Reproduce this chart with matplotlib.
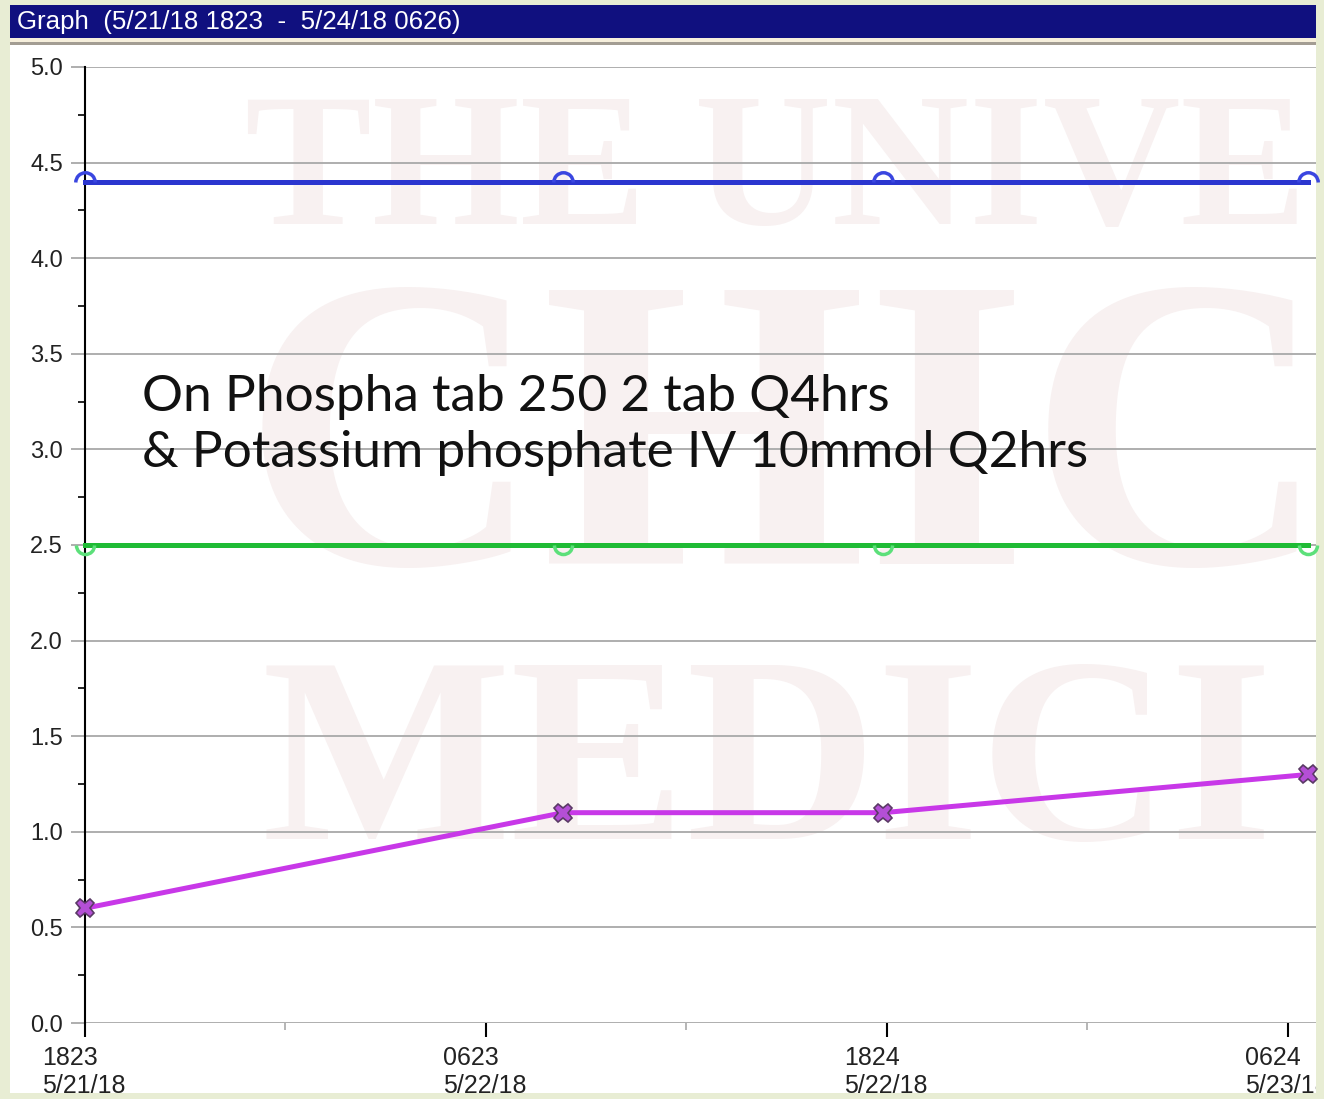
import matplotlib
matplotlib.use('Agg')
import matplotlib.pyplot as plt
from matplotlib.path import Path
from matplotlib.patches import Rectangle
import pandas as pd

# data
start = pd.Timestamp('2018-05-21 18:23')
tick_times = ['2018-05-21 18:23', '2018-05-22 06:23', '2018-05-22 18:24', '2018-05-23 06:24']
tick_labels = ['1823\n5/21/18', '0623\n5/22/18', '1824\n5/22/18', '0624\n5/23/18']
minor_times = ['2018-05-22 00:23', '2018-05-22 12:23', '2018-05-23 00:24']
point_times = ['2018-05-21 18:23', '2018-05-22 08:42', '2018-05-22 18:17', '2018-05-23 07:01']
phos_values = [0.6, 1.1, 1.1, 1.3]
upper_ref = [4.4, 4.4, 4.4, 4.4]
lower_ref = [2.5, 2.5, 2.5, 2.5]
title_text = 'Graph  (5/21/18 1823  -  5/24/18 0626)'
note_lines = ['On Phospha tab 250 2 tab Q4hrs', '& Potassium phosphate IV 10mmol Q2hrs']
watermark = ['THE UNIVE', 'CHIC', 'MEDICI']


def hours(ts):
    return [(pd.Timestamp(t) - start).total_seconds() / 3600 for t in ts]


W, H = 1324, 1099
fig = plt.figure(figsize=(W / 100, H / 100), dpi=100, facecolor='#e8edd4')


def fx(px):
    return px / W


def fy(py):
    return 1 - py / H


# window panel, title bar
panel = Rectangle((fx(10), fy(1093)), fx(1316) - fx(10), fy(44) - fy(1093),
                  transform=fig.transFigure, facecolor='white', edgecolor='none', zorder=-10)
fig.patches.append(panel)
fig.patches.append(Rectangle((fx(10), fy(38)), fx(1306), fy(5) - fy(38), transform=fig.transFigure,
                             facecolor='#10107f', edgecolor='none', zorder=-9))
fig.patches.append(Rectangle((fx(10), fy(42)), fx(1306), fy(38) - fy(42), transform=fig.transFigure,
                             facecolor='#f6efdc', edgecolor='none', zorder=-9))
fig.patches.append(Rectangle((fx(10), fy(45)), fx(1306), fy(42) - fy(45), transform=fig.transFigure,
                             facecolor='#a39d93', edgecolor='none', zorder=-9))
fig.text(fx(17), fy(21.5), title_text, color='white', fontsize=18.6, family='Liberation Sans', va='center')

ax = fig.add_axes([fx(85), fy(1023), fx(1316) - fx(85), fy(67) - fy(1023)])
ax.set_facecolor('none')

x_end = (1316 - 85) / 400.7 * 12
ax.set_xlim(0, x_end)
ax.set_ylim(0, 5)

# faint watermark
wm_kw = dict(family='Liberation Serif', color='#f8f1f1', zorder=0, clip_on=True, va='baseline',
             fontweight='bold')
ax.text(4.8, 4.18, watermark[0], fontsize=137, **wm_kw)
ax.text(4.7, 2.4, watermark[1], fontsize=300, **wm_kw)
ax.text(5.3, 0.96, watermark[2], fontsize=190, **wm_kw)

px = hours(point_times)
top_arc = Path.arc(0, 180)
bot_arc = Path.arc(180, 360)
ax.plot(px, upper_ref, color='#2b36cf', lw=3.6, marker=top_arc, ms=14, mfc='none',
        mec='#3a46e0', mew=2.5, clip_on=False, zorder=3)
ax.plot(px, lower_ref, color='#1fbb35', lw=3.6, marker=bot_arc, ms=13, mfc='none',
        mec='#5ce07a', mew=2.5, clip_on=False, zorder=3)
ax.plot(px, phos_values, color='#c838e8', lw=3.6, marker='X', ms=13, mfc='#b44fd6',
        mec='#5b3a66', mew=1.2, clip_on=False, zorder=4)

# note
note_x = (142 - 85) / (1316 - 85)
ax.text(note_x, 3.20, note_lines[0], transform=ax.get_yaxis_transform(),
        fontsize=37, family='Lato', color='#111111', va='baseline', zorder=5)
ax.text(note_x, 2.908, note_lines[1], transform=ax.get_yaxis_transform(),
        fontsize=37, family='Lato', color='#111111', va='baseline', zorder=5)

# axes styling
for s in ['top', 'right', 'bottom']:
    ax.spines[s].set_visible(False)
ax.spines['left'].set_color('black')
ax.spines['left'].set_linewidth(1.5)

ax.set_yticks([i * 0.5 for i in range(11)])
ax.set_yticklabels(['%.1f' % (i * 0.5) for i in range(11)], family='Liberation Sans', fontsize=17, color='#222222')
ax.set_yticks([0.25 + i * 0.5 for i in range(10)], minor=True)
ax.tick_params(axis='y', which='major', length=10, color='#a8a8a8', width=1.3, pad=6)
ax.tick_params(axis='y', which='minor', length=5, color='black', width=1.2)
ax.grid(axis='y', color='#a8a8a8', lw=1.3, zorder=1)

ax.set_xticks(hours(tick_times))
ax.set_xticklabels([])
ax.set_xticks(hours(minor_times), minor=True)
ax.tick_params(axis='x', which='major', length=10, color='black', width=1.5)
ax.tick_params(axis='x', which='minor', length=5, color='#b0b0b0', width=1.3)

for t, lab in zip(hours(tick_times), tick_labels):
    a = ax.annotate(lab, xy=(t, 0), xycoords=('data', 'axes fraction'), xytext=(-43, -23),
                    textcoords='offset pixels', ha='left', va='top', fontsize=18,
                    family='Liberation Sans', color='#222222', linespacing=1.2, annotation_clip=False)
    a.set_clip_path(panel)

fig.savefig('out.png', dpi=100, facecolor=fig.get_facecolor())
